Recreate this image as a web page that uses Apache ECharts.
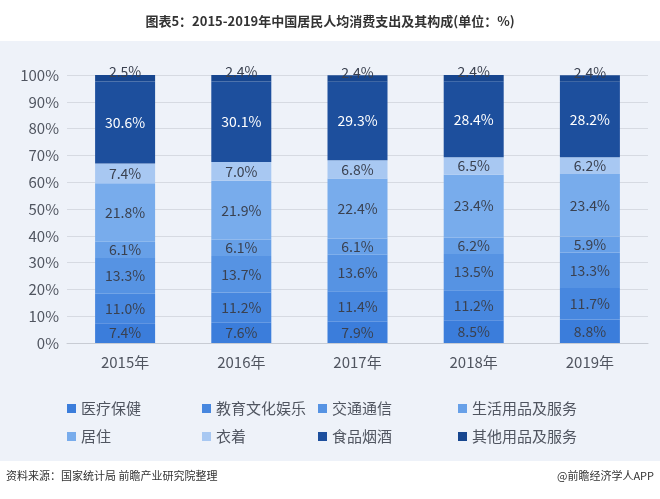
<!DOCTYPE html>
<html><head><meta charset="utf-8">
<script src="https://cdn.jsdelivr.net/npm/echarts@6/dist/echarts.min.js"></script>
<style>body{margin:0}#main{width:660px;height:499px}</style>
</head><body><div id="main"></div>
<script>
var years = ['2015年','2016年','2017年','2018年','2019年'];
var names = ['医疗保健','教育文化娱乐','交通通信','生活用品及服务','居住','衣着','食品烟酒','其他用品及服务'];
var yiliao = [7.4,7.6,7.9,8.5,8.8];
var jiaoyu = [11.0,11.2,11.4,11.2,11.7];
var jiaotong = [13.3,13.7,13.6,13.5,13.3];
var shenghuo = [6.1,6.1,6.1,6.2,5.9];
var juzhu = [21.8,21.9,22.4,23.4,23.4];
var yizhuo = [7.4,7.0,6.8,6.5,6.2];
var shipin = [30.6,30.1,29.3,28.4,28.2];
var qita = [2.5,2.4,2.4,2.4,2.4];
var allData = [yiliao,jiaoyu,jiaotong,shenghuo,juzhu,yizhuo,shipin,qita];
var colors = ['#3b7ddb','#4787df','#5693e3','#67a0e8','#78acec','#a8c8f2','#1d4f9d','#17468f'];
var myChart = echarts.init(document.getElementById('main'));
var font = '"Noto Sans CJK SC", sans-serif';
var series = [];
for (var i = 0; i < names.length; i++) {
  series.push({
    name: names[i], type: 'bar', stack: 'a', barWidth: 60, data: allData[i],
    itemStyle: {color: colors[i]},
    label: {show: true, position: i == 7 ? 'top' : 'inside', distance: i == 7 ? -4 : 5,
      fontSize: 14, fontFamily: font,
      color: i == 6 ? '#fff' : '#3a4150',
      formatter: function(p){ return p.value.toFixed(1) + '%'; }}
  });
}
var legends = [];
var cols = [62,197,313,453];
for (var c = 0; c < 4; c++) {
  legends.push({data: [names[c], names[c+4]], orient: 'vertical', left: cols[c], top: 396,
    itemGap: 13, itemWidth: 9, itemHeight: 9, icon: 'rect',
    textStyle: {fontSize: 15, color: '#505560', fontFamily: font}});
}
var option = {
  animation: false,
  backgroundColor: '#fff',
  graphic: [{type: 'rect', shape: {x: 0, y: 41, width: 660, height: 420}, style: {fill: '#eef2f9'}, z: -10},
    {type: 'text', left: 6, top: 470, style: {text: '资料来源：国家统计局 前瞻产业研究院整理', fontSize: 11, fill: '#333', fontFamily: font}},
    {type: 'text', right: 6, top: 470, style: {text: '@前瞻经济学人APP', fontSize: 11, fill: '#333', fontFamily: font}}],
  title: {text: '图表5：2015-2019年中国居民人均消费支出及其构成(单位：%)', left: 'center', top: 10,
    textStyle: {fontSize: 13, fontWeight: 'bold', color: '#333', fontFamily: font}},
  legend: legends,
  grid: {left: 67, right: 12, top: 75, bottom: 156},
  xAxis: {type: 'category', data: years, axisTick: {show: false},
    axisLine: {lineStyle: {color: '#c8ccd4'}},
    axisLabel: {fontSize: 15, color: '#505560', fontFamily: font, margin: 12}},
  yAxis: {type: 'value', min: 0, max: 100, interval: 10,
    axisLabel: {formatter: '{value}%', fontSize: 15, color: '#505560', fontFamily: font},
    splitLine: {lineStyle: {color: '#d6dae2'}}},
  series: series
};
myChart.setOption(option);
</script></body></html>
